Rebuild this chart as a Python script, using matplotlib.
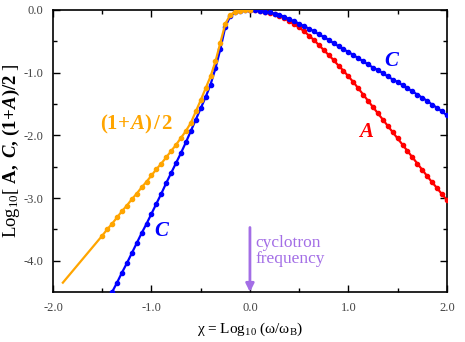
import numpy as np
import matplotlib

matplotlib.use('Agg')

import matplotlib.pyplot as plt

plt.rcParams['font.family'] = ['Liberation Serif', 'DejaVu Serif']
plt.rcParams['mathtext.fontset'] = 'custom'
plt.rcParams['mathtext.rm'] = 'Liberation Serif'
plt.rcParams['mathtext.it'] = 'Liberation Serif:italic'
plt.rcParams['mathtext.bf'] = 'Liberation Serif:bold'
plt.rcParams['mathtext.bfit'] = 'Liberation Serif:bold:italic'
plt.rcParams['axes.unicode_minus'] = False

# (1+A)/2, orange: first point is line only, markers from -1.5
half_x = [-1.90, -1.50, -1.45, -1.40, -1.35, -1.30, -1.25, -1.20, -1.15, -1.10,
          -1.05, -1.00, -0.95, -0.90, -0.85, -0.80, -0.75, -0.70, -0.65, -0.60,
          -0.55, -0.50, -0.45, -0.40, -0.35, -0.30, -0.25, -0.20, -0.15, -0.10,
          -0.05, 0.00]
half_y = [-4.35, -3.60, -3.50, -3.41, -3.31, -3.21, -3.12, -3.02, -2.93, -2.83,
          -2.74, -2.64, -2.54, -2.45, -2.35, -2.25, -2.15, -2.04, -1.93, -1.80,
          -1.62, -1.44, -1.25, -1.06, -0.82, -0.52, -0.22, -0.08, -0.03, -0.01,
          0.00, 0.00]

# C, blue
c_x = [-1.40, -1.35, -1.30, -1.25, -1.20, -1.15, -1.10, -1.05, -1.00, -0.95,
       -0.90, -0.85, -0.80, -0.75, -0.70, -0.65, -0.60, -0.55, -0.50, -0.45,
       -0.40, -0.35, -0.30, -0.25, -0.20, -0.15, -0.10, -0.05, 0.00,
       0.05, 0.10, 0.15, 0.20, 0.25, 0.30, 0.35, 0.40, 0.45, 0.50,
       0.55, 0.60, 0.65, 0.70, 0.75, 0.80, 0.85, 0.90, 0.95, 1.00,
       1.05, 1.10, 1.15, 1.20, 1.25, 1.30, 1.35, 1.40, 1.45, 1.50,
       1.55, 1.60, 1.65, 1.70, 1.75, 1.80, 1.85, 1.90, 1.95, 2.00]
c_y = [-4.50, -4.35, -4.19, -4.04, -3.88, -3.72, -3.56, -3.41, -3.25, -3.09,
       -2.93, -2.76, -2.60, -2.44, -2.28, -2.11, -1.93, -1.75, -1.57, -1.39,
       -1.19, -0.93, -0.62, -0.27, -0.10, -0.04, -0.01, 0.00, 0.00,
       -0.00, -0.01, -0.03, -0.04, -0.06, -0.08, -0.11, -0.15, -0.18, -0.22,
       -0.26, -0.30, -0.34, -0.39, -0.43, -0.48, -0.53, -0.58, -0.63, -0.67,
       -0.72, -0.77, -0.82, -0.87, -0.92, -0.96, -1.01, -1.06, -1.11, -1.15,
       -1.20, -1.25, -1.30, -1.35, -1.40, -1.45, -1.51, -1.56, -1.62, -1.68]

# A, red
a_x = [0.00, 0.05, 0.10, 0.15, 0.20, 0.25, 0.30, 0.35, 0.40, 0.45, 0.50,
       0.55, 0.60, 0.65, 0.70, 0.75, 0.80, 0.85, 0.90, 0.95, 1.00,
       1.05, 1.10, 1.15, 1.20, 1.25, 1.30, 1.35, 1.40, 1.45, 1.50,
       1.55, 1.60, 1.65, 1.70, 1.75, 1.80, 1.85, 1.90, 1.95, 2.00]
a_y = [0.00, -0.00, -0.01, -0.03, -0.05, -0.07, -0.10, -0.13, -0.18, -0.23, -0.28,
       -0.34, -0.41, -0.48, -0.56, -0.64, -0.72, -0.80, -0.89, -0.97, -1.06,
       -1.15, -1.25, -1.35, -1.45, -1.55, -1.65, -1.75, -1.85, -1.95, -2.05,
       -2.15, -2.25, -2.35, -2.45, -2.55, -2.65, -2.75, -2.84, -2.94, -3.03]

orange = '#ffa500'
blue = '#0000ff'
red = '#ff0000'
purple = '#a36ee6'

fig = plt.figure(figsize=(4.65, 3.42), dpi=100)
ax = fig.add_axes([0.114, 0.146, 0.847, 0.825])

ax.plot(a_x, a_y, '-o', color=red, lw=1.6, ms=3.0, zorder=3)
ax.plot(c_x, c_y, '-o', color=blue, lw=1.6, ms=3.0, zorder=4)
ax.plot(half_x, half_y, '-', color=orange, lw=1.6, zorder=5)
ax.plot(half_x[1:], half_y[1:], 'o', color=orange, ms=3.0, zorder=5)

ax.set_xlim(-2.0, 2.0)
ax.set_ylim(-4.5, 0.0)
ax.set_xticks([-2.0, -1.0, 0.0, 1.0, 2.0])
ax.set_xticks([-1.5, -0.5, 0.5, 1.5], minor=True)
ax.set_yticks([0.0, -1.0, -2.0, -3.0, -4.0])
ax.set_yticks([-0.5, -1.5, -2.5, -3.5], minor=True)
ax.xaxis.set_major_formatter(matplotlib.ticker.FormatStrFormatter('%.1f'))
ax.yaxis.set_major_formatter(matplotlib.ticker.FormatStrFormatter('%.1f'))
ax.tick_params(which='both', direction='in', top=True, right=True,
               labelsize=9, labelcolor='#444444', width=1.0)
ax.tick_params(which='major', length=5, pad=7)
ax.tick_params(which='minor', length=3)
for s in ax.spines.values():
    s.set_linewidth(1.2)

ax.set_xlabel(r'χ = Log$_{10}$ (ω/ω$_{\rm B}$)', fontsize=11, labelpad=5)
ax.set_ylabel(r'Log$_{10}$[ $\mathbf{A,}$ $\mathbfit{C}\mathbf{,}$ '
              r'$\mathbf{(1\!+\!}\mathbfit{A}\mathbf{)/2}$ ]',
              fontsize=13.5, labelpad=1)

ax.text(-1.52, -1.83, r'$\mathbf{(1\!+\!}\mathbfit{A}\mathbf{)\,/\,2}$',
        color=orange, fontsize=15, va='center', ha='left')
ax.text(-0.97, -3.54, r'$\mathbfit{C}$', color=blue, fontsize=15,
        va='center', ha='left')
ax.text(1.36, -0.83, r'$\mathbfit{C}$', color=blue, fontsize=15,
        va='center', ha='left')
ax.text(1.10, -1.96, r'$\mathbfit{A}$', color=red, fontsize=15,
        va='center', ha='left')

ax.annotate('', xy=(0.0, -4.5), xytext=(0.0, -3.47),
            arrowprops=dict(arrowstyle='-|>', color=purple, lw=2,
                            mutation_scale=12, shrinkA=0, shrinkB=0))
ax.text(0.06, -3.85, 'cyclotron\nfrequency', color=purple, fontsize=12.5,
        va='center', ha='left', linespacing=1.0)

fig.savefig('out.png', dpi=100)
